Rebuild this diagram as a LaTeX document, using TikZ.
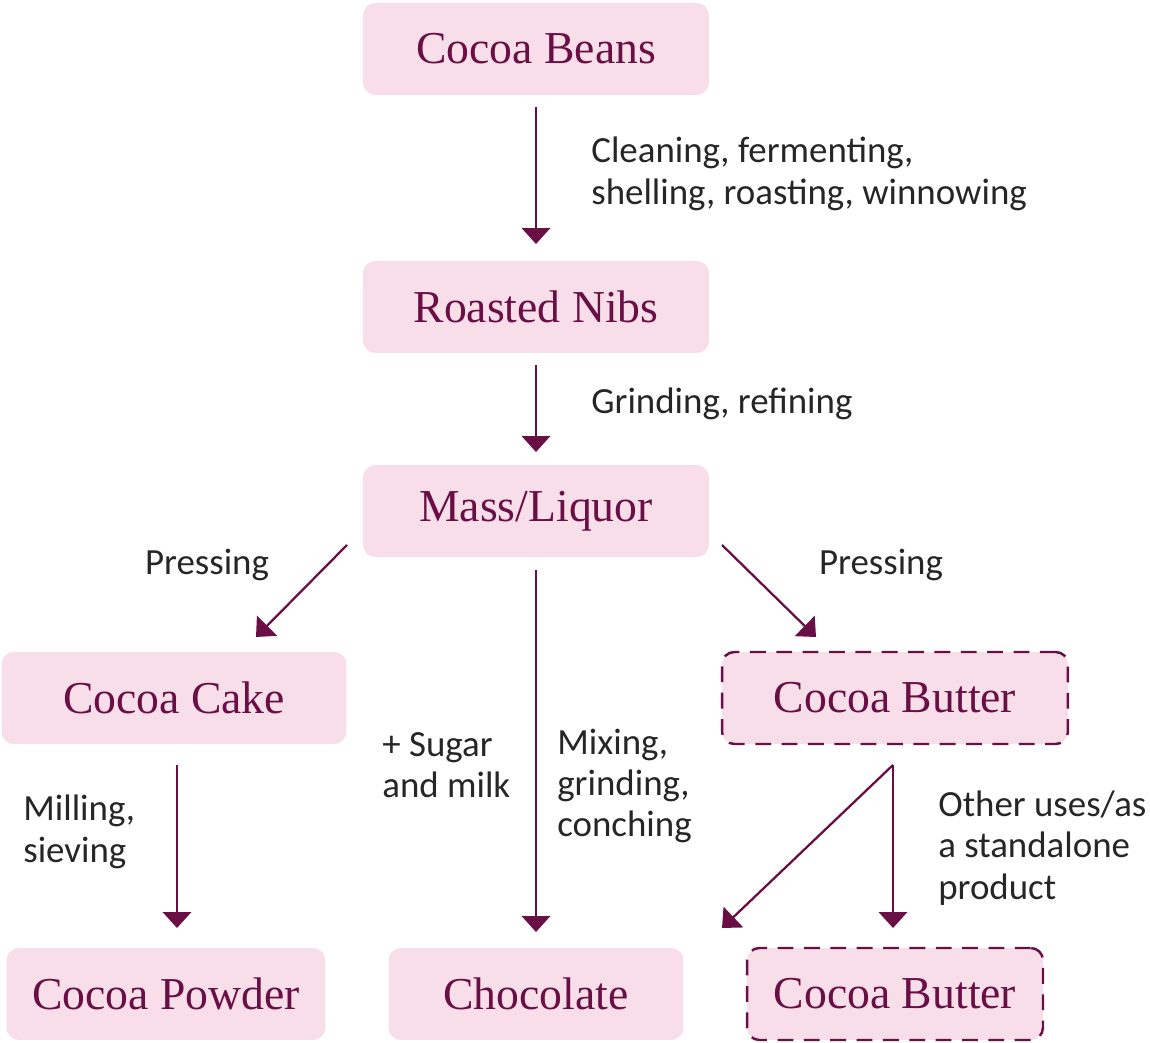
\documentclass[tikz,border=0pt]{standalone}
\usepackage{fontspec}
\setmainfont{Liberation Serif}
\newfontfamily\labelfont{Carlito}
\usetikzlibrary{arrows.meta}
\definecolor{boxfill}{HTML}{F8DEE8}
\definecolor{wine}{HTML}{6A0F45}
\tikzset{
  stage/.style={rectangle,rounded corners=7pt,fill=boxfill,text=wine,
    font=\fontsize{26}{30}\selectfont,minimum height=1.84cm},
  dashstage/.style={stage,draw=wine,line width=1.4pt,dash pattern=on 9pt off 6pt},
  flow/.style={wine,line width=1.3pt,-{Triangle[width=16pt,length=9pt]}},
  step label/.style={font=\labelfont\fontsize{21}{23.5}\selectfont,text=black!85,
    align=left,anchor=west,inner sep=0pt}
}
\begin{document}
\begin{tikzpicture}[x=0.02cm,y=-0.02cm]
\useasboundingbox (0,0) rectangle (1150,1043);
% stages
\node[stage,minimum width=6.92cm] (beans) at (536,49) {Cocoa Beans};
\node[stage,minimum width=6.92cm] (nibs) at (536,307) {Roasted Nibs};
\node[stage,minimum width=6.92cm] (mass) at (536,511) {Mass/Liquor};
\node[stage,minimum width=6.9cm] (cake) at (174,698) {Cocoa Cake};
\node[dashstage,minimum width=6.92cm] (butter) at (895,698) {Cocoa Butter};
\node[stage,minimum width=6.38cm] (powder) at (166,994) {Cocoa Powder};
\node[stage,minimum width=5.9cm] (choc) at (536,994) {Chocolate};
\node[dashstage,minimum width=5.92cm] (butter2) at (895,994) {Cocoa Butter};
% free ends
\coordinate (b0) at (536,107); \coordinate (b1) at (536,244);
\coordinate (n0) at (536,365); \coordinate (n1) at (536,452);
\coordinate (m0) at (347,545); \coordinate (m1) at (256,637);
\coordinate (m2) at (722,545); \coordinate (m3) at (816,637);
\coordinate (m4) at (536,570); \coordinate (m5) at (536,932);
\coordinate (c0) at (177,765); \coordinate (c1) at (177,928);
\coordinate (u0) at (893,765); \coordinate (u1) at (893,928);
\coordinate (u2) at (722,928);
% connectors
\draw[flow] (b0) -- (b1);
\draw[flow] (n0) -- (n1);
\draw[flow] (m0) -- (m1);
\draw[flow] (m2) -- (m3);
\draw[flow] (m4) -- (m5);
\draw[flow] (c0) -- (c1);
\draw[flow] (u0) -- (u1);
\draw[flow] (u0) -- (u2);
% labels
\node[step label] (l1) at (591,174) {Cleaning, fermenting,\\shelling, roasting, winnowing};
\node[step label] (l2) at (591,404) {Grinding, refining};
\node[step label,anchor=center] (l3) at (207,565) {Pressing};
\node[step label,anchor=center] (l4) at (881,565) {Pressing};
\node[step label] (l5) at (382,765) {+ Sugar\\and milk};
\node[step label] (l6) at (557,786) {Mixing,\\grinding,\\conching};
\node[step label] (l7) at (23,832) {Milling,\\sieving};
\node[step label] (l8) at (938,848) {Other uses/as\\a standalone\\product};
\end{tikzpicture}
\end{document}
